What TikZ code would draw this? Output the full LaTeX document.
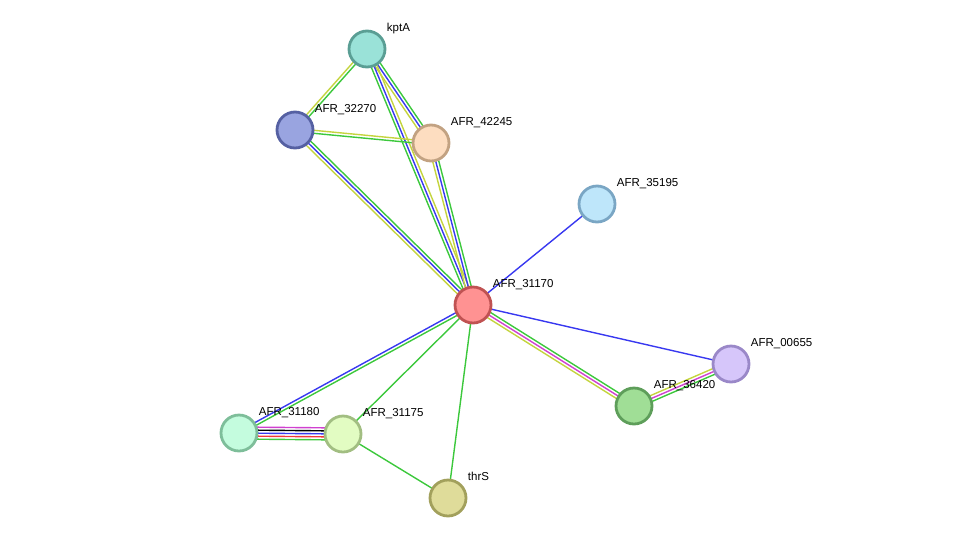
\documentclass[tikz,border=0pt]{standalone}
\usepackage{fontspec}
\setmainfont{Liberation Sans}
\usetikzlibrary{calc,backgrounds}

% link colours
\definecolor{lgreen}{HTML}{3CC83C}
\definecolor{lblue}{HTML}{3838F0}
\definecolor{lyellow}{HTML}{C4D43E}
\definecolor{lpink}{HTML}{D040D0}
\definecolor{lred}{HTML}{F03838}
% protein colours (border, fill)
\definecolor{kptAb}{HTML}{5A9E94}\definecolor{kptAf}{HTML}{9AE2D8}
\definecolor{p32270b}{HTML}{5560A2}\definecolor{p32270f}{HTML}{99A4E0}
\definecolor{p42245b}{HTML}{C2A282}\definecolor{p42245f}{HTML}{FDDDC0}
\definecolor{p35195b}{HTML}{7AA6C4}\definecolor{p35195f}{HTML}{BEE6FA}
\definecolor{p31170b}{HTML}{C05252}\definecolor{p31170f}{HTML}{FF9292}
\definecolor{p00655b}{HTML}{9A88C8}\definecolor{p00655f}{HTML}{D6C6FA}
\definecolor{p36420b}{HTML}{5E9E5A}\definecolor{p36420f}{HTML}{A0DE96}
\definecolor{p31180b}{HTML}{7EBE9A}\definecolor{p31180f}{HTML}{C4FCDE}
\definecolor{p31175b}{HTML}{A2BE82}\definecolor{p31175f}{HTML}{E2FCC2}
\definecolor{thrSb}{HTML}{A2A05C}\definecolor{thrSf}{HTML}{DFDC9A}

\tikzset{
  protein/.style={circle, draw=#1b, fill=#1f, line width=2.8pt,
    minimum size=36pt, inner sep=0pt},
  tag/.style={label={[font=\fontsize{11.5}{13}\selectfont, inner sep=0pt,
    anchor=base west, xshift=6pt, yshift=4pt]north east:#1}},
}

% several parallel lines between two proteins
\newcommand{\linkedge}[4]{%
  \foreach \col [count=\i] in {#4} {
    \pgfmathsetmacro\off{(\i-(#3+1)/2)*3}
    \draw[color=\col, line width=1.4pt]
      ($(#1)!\off pt!90:(#2)$) -- ($(#2)!\off pt!-90:(#1)$);
  }%
}

\begin{document}
\begin{tikzpicture}[x=1pt, y=-1pt]
  \useasboundingbox (0, 0) rectangle (976, 544);
  \node[protein=kptA, tag=kptA] (kptA) at (367, 49) {};
  \node[protein=p32270, tag=AFR\_32270] (a32270) at (295, 130) {};
  \node[protein=p42245, tag=AFR\_42245] (a42245) at (431, 143) {};
  \node[protein=p35195, tag=AFR\_35195] (a35195) at (597, 204) {};
  \node[protein=p31170, tag=AFR\_31170] (a31170) at (473, 305) {};
  \node[protein=p00655, tag=AFR\_00655] (a00655) at (731, 364) {};
  \node[protein=p36420, tag=AFR\_36420] (a36420) at (634, 406) {};
  \node[protein=p31180, tag=AFR\_31180] (a31180) at (239, 433) {};
  \node[protein=p31175, tag=AFR\_31175] (a31175) at (343, 434) {};
  \node[protein=thrS, tag=thrS] (thrS) at (448, 498) {};

  \begin{scope}[on background layer]
    \linkedge{kptA}{a32270}{2}{lyellow,lgreen}
    \linkedge{kptA}{a42245}{3}{lyellow,lblue,lgreen}
    \linkedge{kptA}{a31170}{3}{lgreen,lblue,lyellow}
    \linkedge{a32270}{a42245}{2}{lgreen,lyellow}
    \linkedge{a32270}{a31170}{3}{lyellow,lblue,lgreen}
    \linkedge{a42245}{a31170}{3}{lyellow,lblue,lgreen}
    \linkedge{a35195}{a31170}{1}{lblue}
    \linkedge{a00655}{a31170}{1}{lblue}
    \linkedge{a36420}{a31170}{3}{lgreen,lpink,lyellow}
    \linkedge{a36420}{a00655}{3}{lgreen,lpink,lyellow}
    \linkedge{a31180}{a31170}{2}{lgreen,lblue}
    \linkedge{a31175}{a31170}{1}{lgreen}
    \linkedge{thrS}{a31170}{1}{lgreen}
    \linkedge{thrS}{a31175}{1}{lgreen}
    \linkedge{a31180}{a31175}{5}{lgreen,lred,lblue,black,lpink}
  \end{scope}
\end{tikzpicture}
\end{document}
